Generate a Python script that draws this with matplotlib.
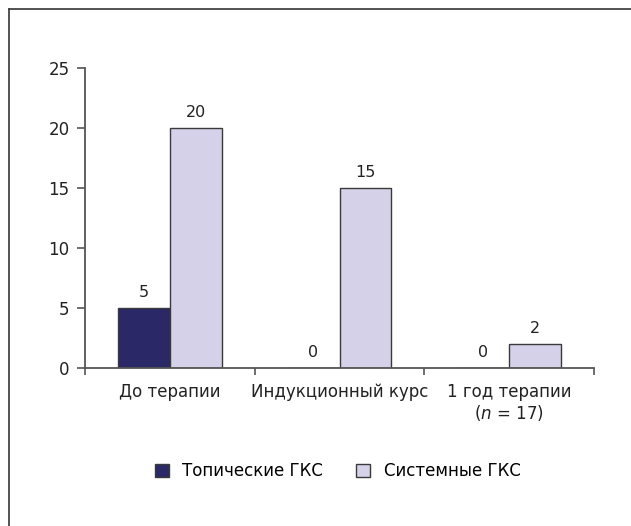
import numpy as np
import matplotlib
matplotlib.use("Agg")
import matplotlib.pyplot as plt
from matplotlib.patches import Patch
from matplotlib.lines import Line2D

plt.rcParams['font.family'] = ['DejaVu Sans']
plt.rcParams['mathtext.fontset'] = 'dejavusans'

categories = ["До терапии", "Индукционный курс", "1 год терапии\n($n$ = 17)"]
topical = [5, 0, 0]
systemic = [20, 15, 2]
series_names = ["Топические ГКС", "Системные ГКС"]
yticks = [0, 5, 10, 15, 20, 25]

dark = "#2a2866"
light = "#d4d1e8"
edge = "#3a3a3a"
axis_col = "#555555"
txt = "#222222"
fs = 12

fig = plt.figure(figsize=(6.31, 5.26), dpi=100)
ax = fig.add_axes([85/631, 1-368/526, (594-85)/631, (368-68)/526])

x = np.arange(len(categories)) + 0.5
w = 0.306
b1 = ax.bar(x - w/2, topical, w, color=dark, edgecolor=edge, linewidth=1)
b2 = ax.bar(x + w/2, systemic, w, color=light, edgecolor=edge, linewidth=1)

for bars, vals in [(b1, topical), (b2, systemic)]:
    for bar, v in zip(bars, vals):
        ax.annotate(str(v), (bar.get_x() + bar.get_width()/2, v),
                    xytext=(0, 6), textcoords="offset points",
                    ha="center", va="bottom", fontsize=fs-0.5, color=txt)

ax.set_xlim(0, 3)
ax.set_ylim(0, 25)
ax.set_yticks(yticks)
ax.set_xticks(x)
ax.set_xticklabels(categories, fontsize=fs, color=txt, linespacing=1.1)
ax.set_xticks(np.arange(0, 4), minor=True)
ax.tick_params(axis="x", which="major", length=0, pad=11)
ax.tick_params(axis="x", which="minor", length=5, width=1.2, color=axis_col, direction="out")
ax.tick_params(axis="y", length=6, width=1.2, color=axis_col, labelsize=fs,
               labelcolor=txt, pad=5)
for s in ["top", "right"]:
    ax.spines[s].set_visible(False)
for s in ["left", "bottom"]:
    ax.spines[s].set_color(axis_col)
    ax.spines[s].set_linewidth(1.3)

handles = [Patch(facecolor=dark, edgecolor=edge, label=series_names[0]),
           Patch(facecolor=light, edgecolor=edge, label=series_names[1])]
fig.legend(handles=handles, loc="center", bbox_to_anchor=(0.535, 1-471/526),
           ncol=2, frameon=False, fontsize=fs, handlelength=0.85, handleheight=0.85,
           columnspacing=2.0, handletextpad=0.8)

# frame around the figure (left and top edges)
fig.add_artist(Line2D([9/631, 9/631], [0, 1-9/526], color="#444444", linewidth=1.3))
fig.add_artist(Line2D([9/631, 1], [1-9/526, 1-9/526], color="#444444", linewidth=1.3))

fig.savefig("out.png", dpi=100)
